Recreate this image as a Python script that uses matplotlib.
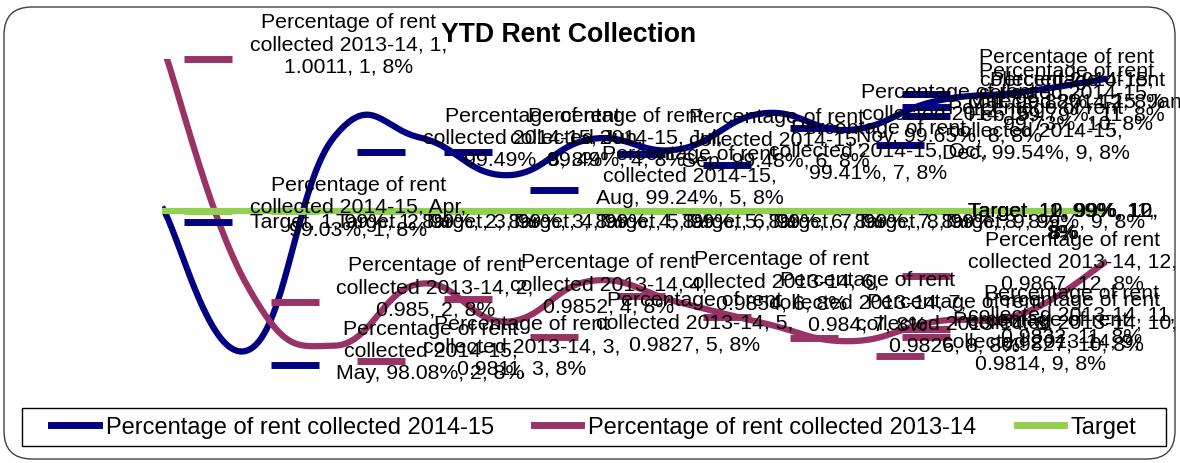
import numpy as np
import matplotlib
matplotlib.use("Agg")
import matplotlib.pyplot as plt
import matplotlib.transforms as mtransforms
from matplotlib.patches import FancyBboxPatch, Rectangle
from matplotlib.lines import Line2D
from matplotlib.font_manager import FontProperties

plt.rcParams["font.family"] = ["Liberation Sans", "DejaVu Sans"]

# ── Data ─────────────────────────────────────
months         = ["Apr", "May", "Jun", "Jul", "Aug", "Sep",
                  "Oct", "Nov", "Dec", "Jan", "Feb", "Mar"]
periods        = list(range(1, 13))
collected_1415 = [99.03, 98.08, 99.49, 99.49, 99.24, 99.48,
                  99.41, 99.65, 99.54, 99.73, 99.79, 99.88]      # %
collected_1314 = [1.0011, 0.985, 0.9811, 0.9852, 0.9827, 0.9854,
                  0.984, 0.9826, 0.9814, 0.9827, 0.9832, 0.9867]  # ratio
target         = [99] * 12                                        # %
share          = "8%"

name_1415 = "Percentage of rent collected 2014-15"
name_1314 = "Percentage of rent collected 2013-14"
name_tgt  = "Target"

NAVY, PLUM, GREEN = "#000080", "#993366", "#92D050"
LABEL_PT = 15.3

# ── Helpers ──────────────────────────────────
def smooth(y, f=0.22, n=40):
    """Bezier smoothing through the points, like the spreadsheet 'smoothed line'."""
    x = np.arange(len(y), dtype=float)
    y = np.asarray(y, dtype=float)
    pts = np.column_stack([x, y])
    pad = np.vstack([pts[0], pts, pts[-1]])
    t = np.linspace(0, 1, n)[:, None]
    out = []
    for i in range(len(pts) - 1):
        p0, p3 = pts[i], pts[i + 1]
        c1 = p0 + f * (pad[i + 2] - pad[i])
        c2 = p3 - f * (pad[i + 3] - pad[i + 1])
        seg = ((1 - t) ** 3) * p0 + 3 * ((1 - t) ** 2) * t * c1 \
            + 3 * (1 - t) * t ** 2 * c2 + t ** 3 * p3
        out.append(seg)
    out = np.vstack(out)
    return out[:, 0], out[:, 1]

fig = plt.figure(figsize=(11.8, 4.64), dpi=100)
renderer = fig.canvas.get_renderer()
fp = FontProperties(family="Liberation Sans", size=LABEL_PT)
max_px = 10.35 * LABEL_PT * 100 / 72

def wrap_px(s):
    words = s.split(" ")
    lines = [words[0]]
    for w in words[1:]:
        trial = lines[-1] + " " + w
        if renderer.get_text_width_height_descent(trial, fp, ismath=False)[0] <= max_px:
            lines[-1] = trial
        else:
            lines.append(w)
    return "\n".join(lines)

# ── Axes: one for the smoothed lines, one for markers + labels ──
W, H = 1180, 464
rect = [162 / W, 1 - 395 / H, (1107 - 162) / W, (395 - 60) / H]
ax = fig.add_axes(rect)
ax.set_xlim(0, 11)
ax.set_ylim(97.79, 100.01)
ax.axis("off")

axm = fig.add_axes(rect, sharey=ax)
axm.set_xlim(-46 / 86.5, (1107 - 208) / 86.5)
axm.axis("off")

vals_1314 = [v * 100 for v in collected_1314]

for vals, col in [(collected_1415, NAVY), (vals_1314, PLUM), (target, GREEN)]:
    sx, sy = smooth(vals)
    ax.plot(sx, sy, color=col, linewidth=4.5, solid_capstyle="butt", zorder=2)

# the last three points stack up near the right edge, as in the original
slot = np.minimum(np.arange(12), 8.3)
low = mtransforms.offset_copy(axm.transData, fig=fig, y=-15, units="dots")

for vals, col, tr in [(collected_1415, NAVY, low), (vals_1314, PLUM, low),
                      (target, GREEN, axm.transData)]:
    axm.plot(slot, vals, ls="none", marker="_", markersize=34.6,
             markeredgewidth=5, color=col, transform=tr, clip_on=False, zorder=3)

# ── Data labels ──────────────────────────────
labels = []
for i in range(12):
    labels.append((f"{name_1415}, {months[i]}, {collected_1415[i]:.2f}%, {periods[i]}, {share}",
                   collected_1415[i], 0))
    labels.append((f"{name_1314}, {periods[i]}, {collected_1314[i]:g}, {periods[i]}, {share}",
                   vals_1314[i], 0))
    labels.append((f"{name_tgt}, {periods[i]}, {target[i]:g}%, {periods[i]}, {share}",
                   target[i], -10))

for k, (txt, yv, dy) in enumerate(labels):
    i = k // 3
    axm.annotate(wrap_px(txt), (slot[i], yv), xytext=(42, dy),
                 textcoords="offset pixels", ha="left", va="center",
                 ma="center", fontsize=LABEL_PT, color="black",
                 annotation_clip=False, zorder=4)

# ── Title, legend, frame ─────────────────────
fig.text(569 / W, 1 - 35 / H, "YTD Rent Collection", ha="center", va="center",
         fontsize=19.2, fontweight="bold", zorder=5)

handles = [Line2D([], [], color=NAVY, linewidth=5),
           Line2D([], [], color=PLUM, linewidth=5),
           Line2D([], [], color=GREEN, linewidth=5)]
leg = fig.legend(handles, [name_1415, name_1314, name_tgt], loc="center",
                 bbox_to_anchor=(594 / W, 1 - 428 / H), ncol=3, fontsize=17,
                 frameon=False, handlelength=2.0, handletextpad=0.3,
                 columnspacing=1.7, borderpad=0.35)

# legend box: wider than the entries, as in the original
fig.add_artist(Rectangle((22, H - 447), 1144, 38, transform=mtransforms.IdentityTransform(),
                         facecolor="none", edgecolor="black", linewidth=1))

fig.add_artist(FancyBboxPatch((4, 4), 1171, 452,
                              boxstyle="round,pad=0,rounding_size=28",
                              transform=mtransforms.IdentityTransform(),
                              facecolor="none", edgecolor="#404040", linewidth=1))

plt.savefig("out.png", dpi=100)
